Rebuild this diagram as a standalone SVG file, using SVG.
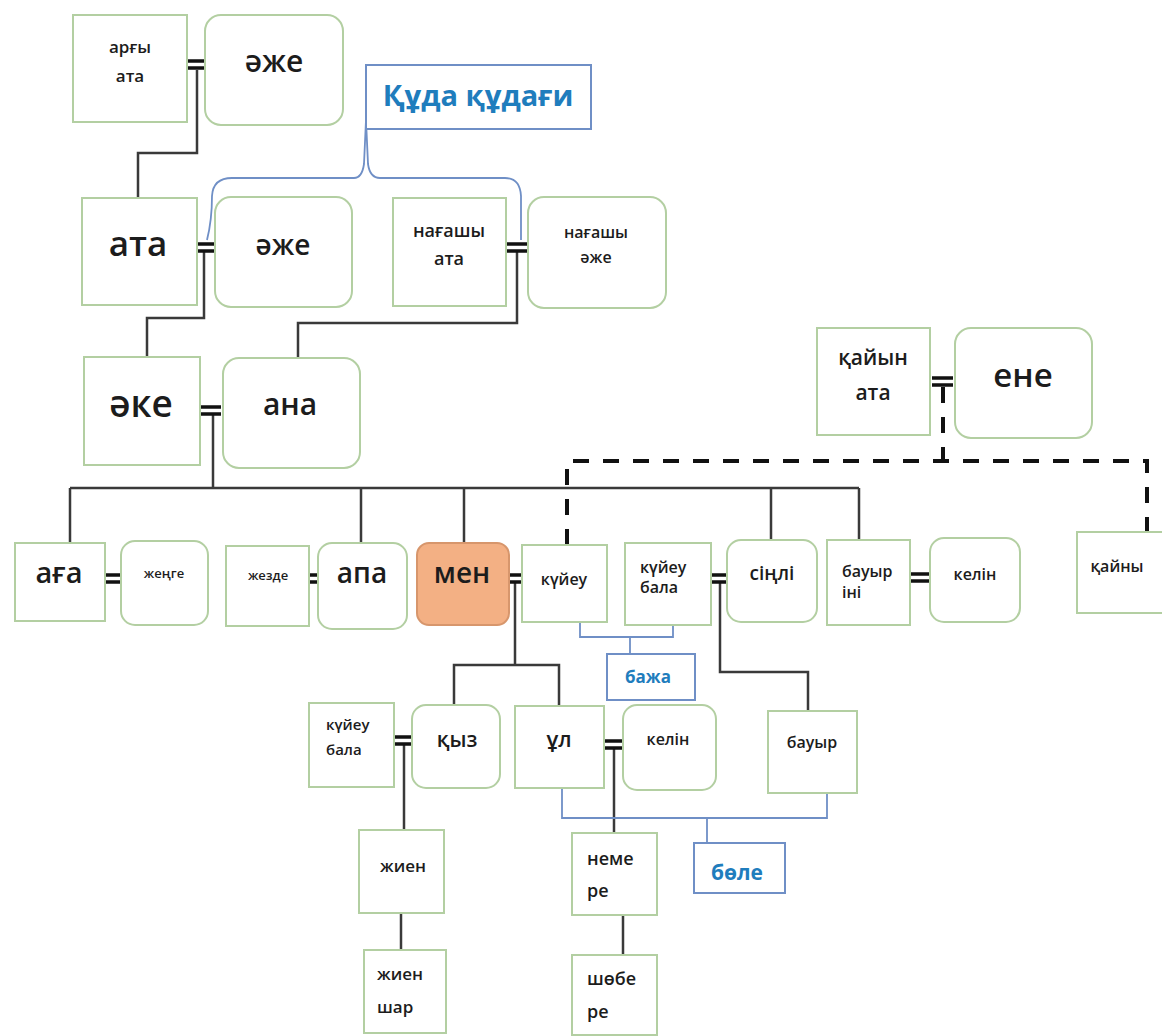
<svg xmlns="http://www.w3.org/2000/svg" width="1162" height="1036" viewBox="0 0 1162 1036">
<style>
.b{fill:#fff;stroke:#b3cfa2;stroke-width:2}
.me{fill:#f3b084;stroke:#d7966c;stroke-width:2}
.bb{fill:#fff;stroke:#6f8fc6;stroke-width:2}
.t{font-family:"Open Sans","Noto Sans",sans-serif;font-weight:600;fill:#1c1c1c}
.c{text-anchor:middle}
.bt{font-family:"Open Sans","Noto Sans",sans-serif;font-weight:700;fill:#1f7dbd;text-anchor:middle}
.ln{stroke:#3a3a3a;stroke-width:2.5;fill:none}
.eq{stroke:#111;stroke-width:3.5;fill:none}
.bl{stroke:#6f8fc6;stroke-width:1.8;fill:none}
.ds{stroke:#111;stroke-width:4;stroke-dasharray:16 14;fill:none}
</style>
<rect width="1162" height="1036" fill="#fff"/>
<g id="connectors">
<path class="ln" d="M197,70 V153 H138 V198"/>
<path class="ln" d="M204,252 V318 H147 V357"/>
<path class="ln" d="M517,252 V323 H298 V358"/>
<path class="ln" d="M213,414 V488"/>
<path class="ln" d="M70,488 H859 M70,488 V543 M361,488 V543 M464,488 V543 M771,488 V540 M859,488 V540"/>
<path class="ds" d="M567,545 V461 H1147 V532"/>
<path class="ds" d="M943,387 V461"/>
<path class="ln" d="M515,583 V665 M454,705 V665 H559 V706"/>
<path class="ln" d="M720,582 V672 H808 V711"/>
<path class="ln" d="M404,744 V830"/>
<path class="ln" d="M614,748 V833"/>
<path class="ln" d="M401,913 V950"/>
<path class="ln" d="M623,915 V955"/>
<path class="bl" d="M207,240 Q212,220 212,196 Q213,178 232,178 L354,178 Q362,178 364,164 L366,120 L368,164 Q370,178 380,178 L505,178 Q520,178 521,196 L521,240"/>
<path class="bl" d="M580,622 V637 H673 V625 M630,637 V654"/>
<path class="bl" d="M562,788 V818 H827 V793 M707,818 V843"/>
<path class="eq" d="M183,61 h22 M183,68 h22"/>
<path class="eq" d="M193,244 h21 M193,251 h21"/>
<path class="eq" d="M505,244 h22 M505,251 h22"/>
<path class="eq" d="M199,407 h22 M199,414 h22"/>
<path class="eq" d="M932,378 h21 M932,385 h21"/>
<path class="eq" d="M104,575 h18 M104,582 h18"/>
<path class="eq" d="M302,575 h17 M302,582 h17"/>
<path class="eq" d="M507,575 h18 M507,582 h18"/>
<path class="eq" d="M708,575 h20 M708,582 h20"/>
<path class="eq" d="M911,574 h20 M911,581 h20"/>
<path class="eq" d="M394,737 h19 M394,744 h19"/>
<path class="eq" d="M603,741 h20 M603,748 h20"/>
</g>
<g id="n-argy-ata"><rect class="b" x="73" y="15" width="114" height="107"/><text class="t c" x="130" y="53" font-size="17">арғы</text><text class="t c" x="130" y="82" font-size="17">ата</text></g>
<g id="n-azhe1"><rect class="b" x="205" y="15" width="138" height="110" rx="16"/><text class="t c" x="274" y="72" font-size="30">әже</text></g>
<g id="n-kuda"><rect class="bb" x="366" y="65" width="225" height="64"/><text class="bt" x="478" y="106" font-size="29">Құда құдағи</text></g>
<g id="n-ata"><rect class="b" x="82" y="198" width="115" height="107"/><text class="t c" x="138" y="256" font-size="35">ата</text></g>
<g id="n-azhe2"><rect class="b" x="215" y="197" width="137" height="110" rx="16"/><text class="t c" x="283" y="255" font-size="28">әже</text></g>
<g id="n-nagashy-ata"><rect class="b" x="393" y="198" width="113" height="108"/><text class="t c" x="449" y="237" font-size="18">нағашы</text><text class="t c" x="449" y="265" font-size="18">ата</text></g>
<g id="n-nagashy-azhe"><rect class="b" x="528" y="197" width="138" height="111" rx="16"/><text class="t c" x="596" y="238" font-size="16">нағашы</text><text class="t c" x="596" y="263" font-size="16">әже</text></g>
<g id="n-ake"><rect class="b" x="84" y="357" width="116" height="108"/><text class="t c" x="141" y="417" font-size="37">әке</text></g>
<g id="n-ana"><rect class="b" x="223" y="358" width="137" height="110" rx="16"/><text class="t c" x="290" y="415" font-size="30">ана</text></g>
<g id="n-kayyn-ata"><rect class="b" x="817" y="328" width="113" height="107"/><text class="t c" x="873" y="365" font-size="21">қайын</text><text class="t c" x="873" y="400" font-size="21">ата</text></g>
<g id="n-ene"><rect class="b" x="955" y="328" width="137" height="110" rx="16"/><text class="t c" x="1023" y="387" font-size="33">ене</text></g>
<g id="n-aga"><rect class="b" x="15" y="543" width="90" height="78"/><text class="t c" x="59" y="583" font-size="29">аға</text></g>
<g id="n-zhenge"><rect class="b" x="121" y="541" width="87" height="84" rx="14"/><text class="t c" x="164" y="578" font-size="13">жеңге</text></g>
<g id="n-zhezde"><rect class="b" x="226" y="546" width="83" height="80"/><text class="t c" x="268" y="580" font-size="13">жезде</text></g>
<g id="n-apa"><rect class="b" x="318" y="543" width="89" height="86" rx="14"/><text class="t c" x="362" y="583" font-size="28">апа</text></g>
<g id="n-men"><rect class="me" x="417" y="543" width="92" height="82" rx="12"/><text class="t c" x="462" y="583" font-size="28">мен</text></g>
<g id="n-kuyeu"><rect class="b" x="522" y="545" width="85" height="77"/><text class="t c" x="564" y="585" font-size="16">күйеу</text></g>
<g id="n-kuyeu-bala1"><rect class="b" x="625" y="543" width="86" height="82"/><text class="t" x="640" y="573" font-size="16">күйеу</text><text class="t" x="640" y="593" font-size="16">бала</text></g>
<g id="n-sinli"><rect class="b" x="727" y="540" width="90" height="82" rx="14"/><text class="t c" x="772" y="580" font-size="19">сіңлі</text></g>
<g id="n-bauyr-ini"><rect class="b" x="827" y="540" width="83" height="85"/><text class="t" x="842" y="577" font-size="16">бауыр</text><text class="t" x="842" y="598" font-size="16">іні</text></g>
<g id="n-kelin1"><rect class="b" x="930" y="538" width="90" height="84" rx="14"/><text class="t c" x="975" y="580" font-size="16">келін</text></g>
<g id="n-kayny"><rect class="b" x="1077" y="532" width="95" height="81"/><text class="t c" x="1117" y="572" font-size="16">қайны</text></g>
<g id="n-bazha"><rect class="bb" x="607" y="654" width="88" height="46"/><text class="bt" x="648" y="683" font-size="17">бажа</text></g>
<g id="n-kuyeu-bala2"><rect class="b" x="309" y="703" width="85" height="84"/><text class="t" x="326" y="730" font-size="15">күйеу</text><text class="t" x="326" y="755" font-size="15">бала</text></g>
<g id="n-kyz"><rect class="b" x="412" y="705" width="88" height="83" rx="14"/><text class="t c" x="457" y="747" font-size="21">қыз</text></g>
<g id="n-ul"><rect class="b" x="515" y="706" width="89" height="82"/><text class="t c" x="559" y="747" font-size="22">ұл</text></g>
<g id="n-kelin2"><rect class="b" x="623" y="705" width="93" height="85" rx="14"/><text class="t c" x="668" y="745" font-size="16">келін</text></g>
<g id="n-bauyr"><rect class="b" x="768" y="711" width="89" height="82"/><text class="t c" x="812" y="748" font-size="16">бауыр</text></g>
<g id="n-zhien"><rect class="b" x="359" y="830" width="85" height="83"/><text class="t c" x="403" y="872" font-size="17">жиен</text></g>
<g id="n-zhien-shar"><rect class="b" x="364" y="950" width="82" height="83"/><text class="t" x="377" y="980" font-size="17">жиен</text><text class="t" x="377" y="1013" font-size="17">шар</text></g>
<g id="n-nemere"><rect class="b" x="572" y="833" width="85" height="82"/><text class="t" x="587" y="865" font-size="18">неме</text><text class="t" x="587" y="897" font-size="18">ре</text></g>
<g id="n-shobere"><rect class="b" x="572" y="955" width="85" height="80"/><text class="t" x="587" y="985" font-size="18">шөбе</text><text class="t" x="587" y="1018" font-size="18">ре</text></g>
<g id="n-bole"><rect class="bb" x="694" y="843" width="91" height="50"/><text class="bt" x="737" y="880" font-size="21">бөле</text></g>
</svg>
